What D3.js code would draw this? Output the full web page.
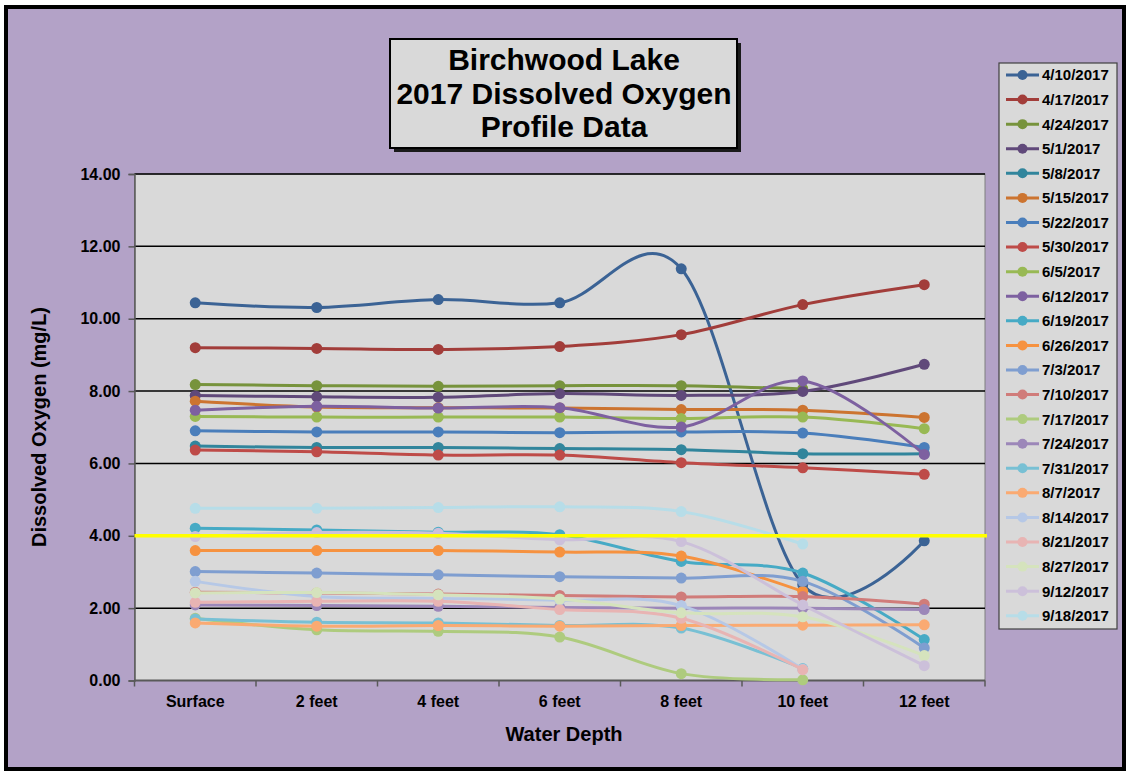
<!DOCTYPE html>
<html>
<head>
<meta charset="utf-8">
<script src="https://cdn.jsdelivr.net/npm/d3@7"></script>
<style>
  html, body { margin: 0; padding: 0; background: #ffffff; }
  svg { display: block; font-family: "Liberation Sans", Arial, sans-serif; }
</style>
</head>
<body>
<svg id="chart" width="1127" height="772"></svg>
<script>
// Depth categories along the x axis
const depths = ["Surface", "2 feet", "4 feet", "6 feet", "8 feet", "10 feet", "12 feet"];

// Sampling dates (legend order)
const dates = ["4/10/2017", "4/17/2017", "4/24/2017", "5/1/2017", "5/8/2017", "5/15/2017",
  "5/22/2017", "5/30/2017", "6/5/2017", "6/12/2017", "6/19/2017", "6/26/2017",
  "7/3/2017", "7/10/2017", "7/17/2017", "7/24/2017", "7/31/2017", "8/7/2017",
  "8/14/2017", "8/21/2017", "8/27/2017", "9/12/2017", "9/18/2017"];

// Dissolved oxygen (mg/L) per date, Surface .. 12 feet (null = not measured)
const do0410 = [10.44, 10.31, 10.53, 10.44, 11.38, 2.65, 3.86];
const do0417 = [9.20, 9.18, 9.15, 9.23, 9.56, 10.39, 10.94];
const do0424 = [8.18, 8.15, 8.13, 8.15, 8.15, 8.06, null];
const do0501 = [7.88, 7.84, 7.83, 7.93, 7.88, 7.99, 8.74];
const do0508 = [6.48, 6.44, 6.44, 6.41, 6.38, 6.27, 6.27];
const do0515 = [7.72, 7.56, 7.54, 7.53, 7.49, 7.47, 7.27];
const do0522 = [6.90, 6.87, 6.87, 6.85, 6.87, 6.84, 6.44];
const do0530 = [6.37, 6.32, 6.23, 6.23, 6.02, 5.88, 5.70];
const do0605 = [7.30, 7.28, 7.28, 7.28, 7.24, 7.28, 6.96];
const do0612 = [7.47, 7.58, 7.53, 7.54, 7.01, 8.28, 6.25];
const do0619 = [4.21, 4.16, 4.10, 4.03, 3.29, 2.97, 1.13];
const do0626 = [3.59, 3.59, 3.59, 3.55, 3.44, 2.46, null];
const do0703 = [3.01, 2.97, 2.92, 2.87, 2.83, 2.74, 0.90];
const do0710 = [2.44, 2.42, 2.39, 2.35, 2.31, 2.32, 2.11];
const do0717 = [1.72, 1.40, 1.36, 1.20, 0.19, 0.02, null];
const do0724 = [2.09, 2.07, 2.05, 2.02, 2.00, 2.00, 1.96];
const do0731 = [1.70, 1.61, 1.59, 1.52, 1.45, 0.33, null];
const do0807 = [1.59, 1.50, 1.52, 1.50, 1.52, 1.53, 1.54];
const do0814 = [2.74, 2.32, 2.27, 2.22, 2.07, 0.31, null];
const do0821 = [2.16, 2.19, 2.19, 1.96, 1.72, 0.30, null];
const do0827 = [2.42, 2.43, 2.37, 2.25, 1.87, 1.76, 0.69];
const do0912 = [3.98, 4.09, 4.07, 3.89, 3.84, 2.09, 0.41];
const do0918 = [4.76, 4.76, 4.78, 4.80, 4.67, 3.77, null];

// Y axis tick values and the highlighted 4.0 mg/L threshold
const yTicks = [0, 2, 4, 6, 8, 10, 12, 14];
const threshold = 4;

const seriesValues = [do0410, do0417, do0424, do0501, do0508, do0515, do0522, do0530,
  do0605, do0612, do0619, do0626, do0703, do0710, do0717, do0724, do0731, do0807,
  do0814, do0821, do0827, do0912, do0918];

const colors = ["#3B6395", "#A23D3A", "#77933C", "#60497A", "#31859C", "#CC7430",
  "#4A7EBB", "#BE4B48", "#98B954", "#7D60A0", "#46AAC5", "#F69240",
  "#7F9ED0", "#D07C7A", "#AECB7E", "#9C87B9", "#78C0D4", "#FAAA72",
  "#B6C8E6", "#E8B4B3", "#D5E3BD", "#CCC0DA", "#B7DDE8"];

const series = dates.map((d, i) => ({
  name: d,
  color: colors[i],
  points: seriesValues[i].map((v, j) => ({ depth: depths[j], value: v })).filter(p => p.value !== null)
}));

const svg = d3.select("#chart");

// Chart background and frame
svg.append("rect").attr("x", 6).attr("y", 7).attr("width", 1118).attr("height", 762)
  .attr("fill", "#B3A2C7").attr("stroke", "#000").attr("stroke-width", 4);

const plot = { left: 134.5, right: 985, top: 174, bottom: 680.5 };

const x = d3.scalePoint().domain(depths).range([plot.left, plot.right]).padding(0.5);
const y = d3.scaleLinear().domain([0, 14]).range([plot.bottom, plot.top]);

// Plot area
svg.append("rect")
  .attr("x", plot.left).attr("y", plot.top)
  .attr("width", plot.right - plot.left).attr("height", plot.bottom - plot.top)
  .attr("fill", "#D9D9D9").attr("stroke", "#7F7F7F").attr("stroke-width", 1);

// Horizontal gridlines
svg.append("g").selectAll("line")
  .data(yTicks.filter(t => t !== 0 && t !== threshold))
  .join("line")
  .attr("x1", plot.left).attr("x2", plot.right)
  .attr("y1", d => y(d)).attr("y2", d => y(d))
  .attr("stroke", "#000").attr("stroke-width", 1.5);

// Y axis
const yAxis = svg.append("g")
  .attr("transform", `translate(${plot.left},0)`)
  .call(d3.axisLeft(y).tickValues(yTicks).tickFormat(d3.format(".2f")).tickSize(6).tickPadding(8));
yAxis.select(".domain").attr("stroke", "#595959").attr("stroke-width", 1.5);
yAxis.selectAll(".tick line").attr("stroke", "#595959").attr("stroke-width", 1.5);
yAxis.selectAll("text").attr("font-size", 16).attr("font-weight", "bold").attr("fill", "#000")
  .attr("font-family", "'Liberation Sans', Arial, sans-serif");

// X axis with tick marks between categories
const xAxisG = svg.append("g").attr("transform", `translate(0,${plot.bottom})`);
xAxisG.append("line").attr("x1", plot.left).attr("x2", plot.right)
  .attr("stroke", "#595959").attr("stroke-width", 2);
const step = x.step();
const boundaries = d3.range(depths.length + 1).map(i => plot.left + i * step);
xAxisG.selectAll("line.tk").data(boundaries).join("line").attr("class", "tk")
  .attr("x1", d => d).attr("x2", d => d).attr("y1", 0).attr("y2", 6)
  .attr("stroke", "#595959").attr("stroke-width", 1.5);
xAxisG.selectAll("text").data(depths).join("text")
  .attr("x", d => x(d)).attr("y", 26)
  .attr("text-anchor", "middle").attr("font-size", 16).attr("font-weight", "bold")
  .text(d => d);

// Axis titles
svg.append("text").attr("x", 564).attr("y", 741).attr("text-anchor", "middle")
  .attr("font-size", 20).attr("font-weight", "bold").text("Water Depth");
svg.append("text").attr("transform", "translate(46,427) rotate(-90)").attr("text-anchor", "middle")
  .attr("font-size", 20).attr("font-weight", "bold").text("Dissolved Oxygen (mg/L)");

// Series lines and markers (Excel-style smoothed lines)
const line = d3.line().x(d => x(d.depth)).y(d => y(d.value)).curve(d3.curveCardinal.tension(0));
const sg = svg.append("g");
series.forEach(s => {
  const g = sg.append("g");
  g.append("path").attr("d", line(s.points)).attr("fill", "none")
    .attr("stroke", s.color).attr("stroke-width", 3).attr("stroke-linejoin", "round").attr("stroke-linecap", "round");
  g.selectAll("circle").data(s.points).join("circle")
    .attr("cx", d => x(d.depth)).attr("cy", d => y(d.value)).attr("r", 5.5)
    .attr("fill", s.color);
});

// Threshold line at 4.0 mg/L
svg.append("line").attr("x1", plot.left).attr("x2", plot.right + 2)
  .attr("y1", y(threshold)).attr("y2", y(threshold))
  .attr("stroke", "#FFFF00").attr("stroke-width", 3.5);

// Title box with drop shadow
svg.append("rect").attr("x", 394).attr("y", 43).attr("width", 347).attr("height", 109).attr("fill", "#1a1a1a");
svg.append("rect").attr("x", 390).attr("y", 39).attr("width", 347).attr("height", 109)
  .attr("fill", "#D9D9D9").attr("stroke", "#000").attr("stroke-width", 2);
const titleLines = ["Birchwood Lake", "2017 Dissolved Oxygen", "Profile Data"];
svg.append("g").selectAll("text").data(titleLines).join("text")
  .attr("x", 564).attr("y", (d, i) => 70 + i * 33.7)
  .attr("text-anchor", "middle").attr("font-size", 30).attr("font-weight", "bold")
  .text(d => d);

// Legend
const legend = svg.append("g");
legend.append("rect").attr("x", 999).attr("y", 63).attr("width", 118).attr("height", 566)
  .attr("fill", "#D9D9D9").attr("stroke", "#404040").attr("stroke-width", 1.2);
const items = legend.selectAll("g.item").data(series).join("g").attr("class", "item")
  .attr("transform", (d, i) => `translate(0,${75 + i * 24.58})`);
items.append("line").attr("x1", 1006).attr("x2", 1039).attr("y1", 0).attr("y2", 0)
  .attr("stroke", d => d.color).attr("stroke-width", 3);
items.append("circle").attr("cx", 1022.5).attr("cy", 0).attr("r", 5).attr("fill", d => d.color);
items.append("text").attr("x", 1042).attr("y", 0).attr("dy", "0.36em")
  .attr("font-size", 15).attr("font-weight", "bold").text(d => d.name);
</script>
</body>
</html>
